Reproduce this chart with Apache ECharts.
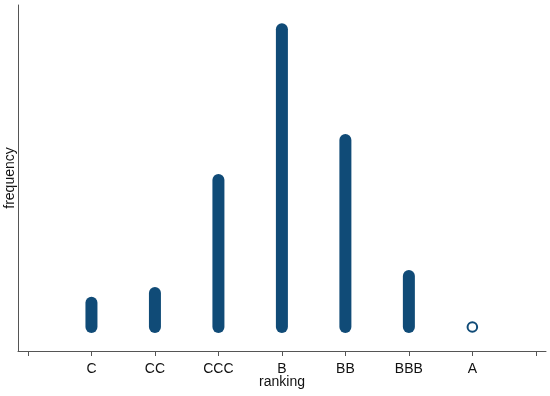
<!DOCTYPE html>
<html>
<head>
<meta charset="utf-8">
<script src="https://cdn.jsdelivr.net/npm/echarts@6/dist/echarts.min.js"></script>
<style>
  html, body { margin: 0; padding: 0; background: #fff; }
  #chart { width: 550px; height: 396px; }
</style>
</head>
<body>
<div id="chart"></div>
<script>
// ranking categories, placed at x = 1..7
const categories = ['C', 'CC', 'CCC', 'B', 'BB', 'BBB', 'A'];
const positions = [1, 2, 3, 4, 5, 6, 7];
// frequency per ranking (no y scale shown)
const frequency = [7.3, 10.3, 44.4, 90, 56.5, 15.4, 0];
// ticks on the x axis (including the empty ends)
const xTicks = [0, 1, 2, 3, 4, 5, 6, 7, 8];

const navy = '#104b77';
const axisGrey = '#555';

const chart = echarts.init(document.getElementById('chart'));

const data = positions.map((p, i) => [p, frequency[i]]);

chart.setOption({
  animation: false,
  backgroundColor: '#fff',
  grid: { left: 18, right: 4, top: 5, bottom: 45, outerBoundsMode: 'none' },
  xAxis: {
    type: 'value',
    min: -0.157,
    max: 8.16,
    name: 'ranking',
    nameLocation: 'middle',
    nameGap: 24,
    nameMoveOverlap: false,
    nameTextStyle: { fontFamily: 'Liberation Sans', fontSize: 14, color: '#111' },
    splitLine: { show: false },
    axisLine: { show: true, onZero: false, lineStyle: { color: axisGrey, width: 1 } },
    axisTick: {
      show: true,
      customValues: xTicks,
      length: 5,
      lineStyle: { color: axisGrey }
    },
    axisLabel: {
      customValues: positions,
      margin: 11,
      fontFamily: 'Liberation Sans',
      fontSize: 14,
      color: '#111',
      formatter: v => categories[positions.indexOf(Math.round(v))] || ''
    }
  },
  yAxis: {
    type: 'value',
    min: -7.25,
    max: 97.3,
    name: 'frequency',
    nameLocation: 'middle',
    nameGap: 1,
    nameTextStyle: { fontFamily: 'Liberation Sans', fontSize: 14, color: '#111' },
    splitLine: { show: false },
    axisLine: { show: true, onZero: false, lineStyle: { color: axisGrey, width: 1 } },
    axisTick: { show: false },
    axisLabel: { show: false }
  },
  series: [{
    type: 'custom',
    data: data,
    renderItem: function (params, api) {
      const x = api.value(0);
      const y = api.value(1);
      const base = api.coord([x, 0]);
      if (y <= 0) {
        return {
          type: 'circle',
          shape: { cx: base[0], cy: base[1], r: 4.8 },
          style: { fill: '#fff', stroke: navy, lineWidth: 2 }
        };
      }
      const top = api.coord([x, y]);
      return {
        type: 'line',
        shape: { x1: base[0], y1: base[1], x2: top[0], y2: top[1] },
        style: { stroke: navy, lineWidth: 12, lineCap: 'round' }
      };
    }
  }]
});
</script>
</body>
</html>
